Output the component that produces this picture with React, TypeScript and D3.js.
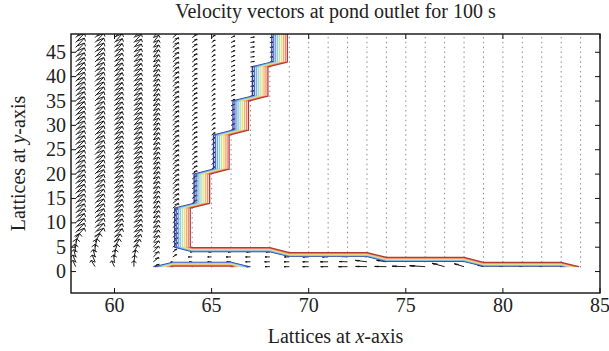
import React from "react";
import * as d3 from "d3";

const W = 609;
const H = 351;
const X_DOMAIN = [57.76, 85];
const Y_DOMAIN = [-4.4, 48.75];
const xTicks = [60, 65, 70, 75, 80, 85];
const yTicks = [0, 5, 10, 15, 20, 25, 30, 35, 40, 45];
const TITLE = "Velocity vectors at pond outlet for 100 s";

// lattice grid
const gridX = d3.range(58, 85); // 58..84
const gridY = d3.range(1, 51); // 1..50
const DOT_MAX_Y = 48;

// solid (dry) region: rows [bandBottom..bandTop] are solid from firstSolid onward
const bandTop = [50, 42, 35, 28, 20, 13, 4, 3, 2, 1];
const bandBottom = [43, 36, 29, 21, 14, 5, 4, 3, 2, 1];
const firstSolid = [69, 68, 67, 66, 65, 64, 69, 74, 79, 84];
const islandRow = 1;
const islandCols = [63, 64, 65, 66];

// contour levels
const levels = [0.1, 0.2, 0.3, 0.4, 0.5, 0.6, 0.7, 0.8, 0.9];
const levelColors = [
  "#2a3a9c", "#4a6cc4", "#78a8de", "#8dd2e0", "#bfe3b0",
  "#f1e172", "#f4b068", "#ec8874", "#b23c35",
];

// upper-column velocity vectors (drawn lengths in lattice units)
const colX = [58, 59, 60, 61, 62, 63, 64, 65, 66, 67, 68];
const colU = [0.45, 0.45, 0.4, 0.38, 0.28, 0.3, 0.25, 0.18, 0.2, 0.2, 0.15];
const colV = [1.9, 1.9, 1.8, 1.7, 1.5, 1.0, 0.7, 0.5, 0.35, 0.12, 0.08];

// bottom rows (1..6) of left columns 58..62
const botRows = [1, 2, 3, 4, 5, 6];
const botU = [
  [-0.15, -0.15, -0.1, -0.05, 0.05, 0.2],
  [-0.2, -0.15, -0.1, 0.0, 0.1, 0.25],
  [-0.15, -0.05, 0.05, 0.15, 0.25, 0.3],
  [0.0, 0.05, 0.1, 0.2, 0.3, 0.35],
  [0.3, 0.28, 0.28, 0.28, 0.28, 0.28],
];
const botV = [
  [1.3, 1.4, 1.5, 1.6, 1.7, 1.8],
  [1.3, 1.4, 1.5, 1.6, 1.7, 1.8],
  [1.2, 1.4, 1.5, 1.6, 1.7, 1.7],
  [1.2, 1.3, 1.4, 1.5, 1.6, 1.6],
  [0.5, 0.9, 1.1, 1.2, 1.3, 1.4],
];

// bottom channel rows (flow towards -x)
const row1X = [67, 68, 69, 70, 71, 72, 73, 74, 75, 76, 77, 78, 79, 80, 81, 82, 83];
const row1U = [-0.2, -0.25, -0.27, -0.31, -0.38, -0.46, -0.58, -0.6, -0.7, -0.8, -0.65, -0.5, -0.3, -0.2, -0.15, -0.1, -0.05];
const row1V = [0, 0, 0, 0, 0, 0, 0.05, 0.05, 0.1, 0.2, 0.7, 0.6, 0.3, 0.2, 0.1, 0.05, 0.02];
const row2X = [63, 64, 65, 66, 67, 68, 69, 70, 71, 72, 73, 74, 75, 76, 77, 78];
const row2U = [-0.1, -0.15, -0.2, -0.22, -0.25, -0.27, -0.27, -0.31, -0.4, -0.42, -0.6, -0.5, -0.45, -0.4, -0.3, -0.2];
const row2V = [0, 0, 0, 0, 0, 0, 0, 0, 0, 0.05, 0.3, 0.3, 0.4, 0.4, 0.4, 0.3];
const row3X = [63, 64, 65, 66, 67, 68, 69, 70, 71, 72, 73];
const row3U = [0.2, -0.2, -0.2, -0.25, -0.25, -0.25, -0.25, -0.3, -0.3, -0.35, -0.4];
const row3V = [0.5, 0, 0, 0, 0, 0, 0, 0, 0, 0.1, 0.2];
const row4X = [63, 64, 65, 66, 67, 68];
const row4U = [0.2, -0.1, -0.15, -0.15, -0.2, -0.2];
const row4V = [0.6, 0, 0, 0, 0, 0];

function isSolid(gx: number, gy: number): number {
  if (gy === islandRow && islandCols.includes(gx)) return 1;
  for (let k = 0; k < bandTop.length; k++) {
    if (gy >= bandBottom[k] && gy <= bandTop[k]) return gx >= firstSolid[k] ? 1 : 0;
  }
  return 0;
}

function isolineSegments(c: number): number[][][] {
  const segs: number[][][] = [];
  for (let i = 0; i < gridX.length - 1; i++) {
    for (let j = 0; j < gridY.length - 1; j++) {
      const x0 = gridX[i], x1 = gridX[i + 1], y0 = gridY[j], y1 = gridY[j + 1];
      const v00 = isSolid(x0, y0), v10 = isSolid(x1, y0), v01 = isSolid(x0, y1), v11 = isSolid(x1, y1);
      const pts: number[][] = [];
      const edge = (ax: number, ay: number, va: number, bx: number, by: number, vb: number) => {
        if ((va >= c) !== (vb >= c)) {
          const t = (c - va) / (vb - va);
          pts.push([ax + t * (bx - ax), ay + t * (by - ay)]);
        }
      };
      edge(x0, y0, v00, x1, y0, v10);
      edge(x1, y0, v10, x1, y1, v11);
      edge(x1, y1, v11, x0, y1, v01);
      edge(x0, y1, v01, x0, y0, v00);
      if (pts.length === 2) segs.push([pts[0], pts[1]]);
      else if (pts.length === 4) {
        const center = (v00 + v10 + v01 + v11) / 4 >= c;
        const diag = v00 >= c;
        if (center === diag) { segs.push([pts[0], pts[1]]); segs.push([pts[2], pts[3]]); }
        else { segs.push([pts[0], pts[3]]); segs.push([pts[1], pts[2]]); }
      }
    }
  }
  return segs;
}

function lookupRow(xs: number[], us: number[], vs: number[], gx: number) {
  const k = xs.indexOf(gx);
  return k >= 0 ? [us[k], vs[k]] : null;
}

function velocity(gx: number, gy: number): number[] | null {
  if (isSolid(gx, gy)) return null;
  if (gx >= 63 && gy <= 4) {
    if (gy === 1) return lookupRow(row1X, row1U, row1V, gx);
    if (gy === 2) return lookupRow(row2X, row2U, row2V, gx);
    if (gy === 3) return lookupRow(row3X, row3U, row3V, gx);
    return lookupRow(row4X, row4U, row4V, gx);
  }
  const ci = colX.indexOf(gx);
  if (ci < 0) return null;
  if (gx <= 62 && gy <= botRows[botRows.length - 1]) {
    const r = botRows.indexOf(gy);
    return [botU[ci][r], botV[ci][r]];
  }
  return [colU[ci], colV[ci]];
}

export default function App() {
  const left = 71, right = 600, top = 34, bottom = 293;
  const x = d3.scaleLinear().domain(X_DOMAIN).range([left, right]);
  const y = d3.scaleLinear().domain(Y_DOMAIN).range([bottom, top]);

  const dots: number[][] = [];
  for (const gx of gridX) for (const gy of gridY) {
    if (gy <= DOT_MAX_Y && isSolid(gx, gy)) dots.push([gx, gy]);
  }

  const alpha = 0.33, beta = 0.33;
  let arrowPath = "";
  for (const gx of gridX) for (const gy of gridY) {
    if (gy > DOT_MAX_Y) continue;
    const vel = velocity(gx, gy);
    if (!vel) continue;
    const [u, v] = vel;
    const tx = gx + u, ty = gy + v;
    const h1x = tx - alpha * (u + beta * v), h1y = ty - alpha * (v - beta * u);
    const h2x = tx - alpha * (u - beta * v), h2y = ty - alpha * (v + beta * u);
    arrowPath += `M${x(gx)},${y(gy)}L${x(tx)},${y(ty)}M${x(h1x)},${y(h1y)}L${x(tx)},${y(ty)}L${x(h2x)},${y(h2y)}`;
  }

  const contourPaths = levels.map((c) =>
    isolineSegments(c).map((s) => `M${x(s[0][0])},${y(s[0][1])}L${x(s[1][0])},${y(s[1][1])}`).join("")
  );

  const font = "'Liberation Serif', 'Times New Roman', serif";
  const tickLen = 5;
  const fs = 20;

  return (
    <svg width={W} height={H} style={{ position: "absolute", left: 0, top: 0, background: "#fff" }}>
      <defs>
        <clipPath id="plotClip">
          <rect x={left} y={top} width={right - left} height={bottom - top} />
        </clipPath>
      </defs>
      <rect x={0} y={0} width={W} height={H} fill="#fff" />
      <g clipPath="url(#plotClip)">
        {dots.map(([gx, gy], i) => (
          <rect key={i} x={x(gx) - 0.5} y={y(gy) - 0.75} width={1} height={1.5} fill="#8c8c8c" />
        ))}
        <path d={arrowPath} fill="none" stroke="#111" strokeWidth={0.95} />
        {contourPaths.map((d, i) => (
          <path key={i} d={d} fill="none" stroke={levelColors[i]} strokeWidth={1.3} strokeLinecap="round" />
        ))}
      </g>
      <rect x={left} y={top} width={right - left} height={bottom - top} fill="none" stroke="#111" strokeWidth={1.4} />
      {xTicks.map((t) => (
        <g key={"xt" + t}>
          <line x1={x(t)} x2={x(t)} y1={bottom} y2={bottom - tickLen} stroke="#111" strokeWidth={1} />
          <line x1={x(t)} x2={x(t)} y1={top} y2={top + tickLen} stroke="#111" strokeWidth={1} />
          <text x={x(t)} y={312} fontFamily={font} fontSize={fs} textAnchor="middle" fill="#222">{t}</text>
        </g>
      ))}
      {yTicks.map((t) => (
        <g key={"yt" + t}>
          <line x1={left} x2={left + tickLen} y1={y(t)} y2={y(t)} stroke="#111" strokeWidth={1} />
          <line x1={right} x2={right - tickLen} y1={y(t)} y2={y(t)} stroke="#111" strokeWidth={1} />
          <text x={left - 5} y={y(t) + 6.5} fontFamily={font} fontSize={fs} textAnchor="end" fill="#222">{t}</text>
        </g>
      ))}
      <text x={(left + right) / 2} y={18} fontFamily={font} fontSize={fs} textAnchor="middle" fill="#222">{TITLE}</text>
      <text x={(left + right) / 2} y={343} fontFamily={font} fontSize={fs} textAnchor="middle" fill="#222">
        Lattices at <tspan fontStyle="italic">x</tspan>-axis
      </text>
      <text transform={`translate(25,${(top + bottom) / 2}) rotate(-90)`} fontFamily={font} fontSize={fs} textAnchor="middle" fill="#222">
        Lattices at <tspan fontStyle="italic">y</tspan>-axis
      </text>
    </svg>
  );
}
